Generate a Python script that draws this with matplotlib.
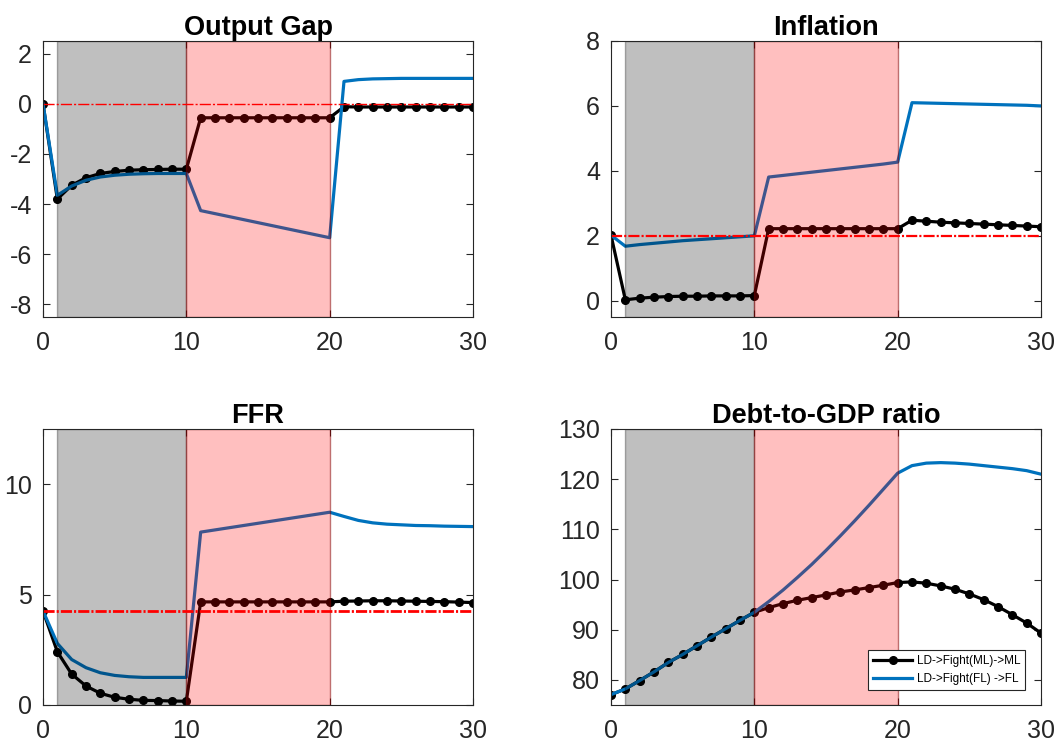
import numpy as np
import matplotlib
matplotlib.use("Agg")
import matplotlib.pyplot as plt

plt.rcParams['font.family'] = ['Liberation Sans', 'DejaVu Sans']
plt.rcParams['axes.unicode_minus'] = False
plt.rcParams['lines.scale_dashes'] = False

t = np.arange(0, 31)

# Output gap
gap_ml = [0, -3.8, -3.25, -2.95, -2.78, -2.70, -2.65, -2.63, -2.62, -2.61, -2.61,
          -0.56, -0.56, -0.56, -0.56, -0.56, -0.56, -0.56, -0.56, -0.56, -0.56,
          -0.12, -0.13, -0.13, -0.13, -0.13, -0.13, -0.13, -0.13, -0.13, -0.13]
gap_fl = [0, -3.65, -3.28, -3.05, -2.92, -2.85, -2.81, -2.79, -2.78, -2.78, -2.78,
          -4.26, -4.38, -4.50, -4.62, -4.74, -4.86, -4.98, -5.10, -5.22, -5.34,
          0.89, 0.96, 0.99, 1.0, 1.01, 1.01, 1.01, 1.01, 1.01, 1.01]
gap_ss = 0.0

# Inflation
inf_ml = [2.02, 0.03, 0.08, 0.11, 0.13, 0.14, 0.14, 0.15, 0.15, 0.15, 0.16,
          2.22, 2.22, 2.22, 2.22, 2.22, 2.22, 2.22, 2.22, 2.22, 2.22,
          2.48, 2.45, 2.42, 2.40, 2.38, 2.36, 2.34, 2.32, 2.30, 2.28]
inf_fl = [2.02, 1.68, 1.73, 1.77, 1.81, 1.85, 1.88, 1.91, 1.94, 1.97, 2.0,
          3.81, 3.86, 3.91, 3.96, 4.01, 4.06, 4.11, 4.16, 4.21, 4.27,
          6.10, 6.09, 6.08, 6.07, 6.06, 6.05, 6.04, 6.03, 6.02, 6.00]
inf_ss = 2.0

# FFR
ffr_ml = [4.26, 2.41, 1.40, 0.86, 0.53, 0.35, 0.26, 0.21, 0.20, 0.18, 0.17,
          4.67, 4.67, 4.67, 4.67, 4.67, 4.67, 4.67, 4.67, 4.67, 4.67,
          4.70, 4.71, 4.72, 4.72, 4.71, 4.70, 4.69, 4.68, 4.66, 4.64]
ffr_fl = [4.26, 2.79, 2.06, 1.69, 1.46, 1.34, 1.28, 1.25, 1.25, 1.25, 1.25,
          7.83, 7.93, 8.03, 8.13, 8.23, 8.33, 8.43, 8.53, 8.63, 8.73,
          8.54, 8.36, 8.25, 8.19, 8.16, 8.13, 8.12, 8.10, 8.09, 8.08]
ffr_ss = 4.26

# Debt-to-GDP
debt_ml = [77.07, 78.2, 79.87, 81.6, 83.47, 85.07, 86.8, 88.53, 90.2, 91.87, 93.47,
           94.4, 95.2, 95.87, 96.4, 96.93, 97.53, 97.93, 98.4, 98.87, 99.4,
           99.53, 99.27, 98.73, 98.07, 97.13, 96.0, 94.6, 93.0, 91.33, 89.33]
debt_fl = [77.07, 78.2, 79.87, 81.6, 83.47, 85.07, 86.8, 88.53, 90.2, 91.87, 93.47,
           95.6, 97.9, 100.4, 103.0, 105.8, 108.7, 111.7, 114.8, 118.0, 121.2,
           122.7, 123.2, 123.3, 123.2, 123.0, 122.7, 122.4, 122.1, 121.7, 121.0]

titles = ["Output Gap", "Inflation", "FFR", "Debt-to-GDP ratio"]
ml_series = [gap_ml, inf_ml, ffr_ml, debt_ml]
fl_series = [gap_fl, inf_fl, ffr_fl, debt_fl]
ss_values = [gap_ss, inf_ss, ffr_ss, None]
ss_widths = [1.0, 1.6, 2.0, None]
ylims = [(-8.5, 2.5), (-0.5, 8), (0, 12.5), (75, 130)]
yticks = [[-8, -6, -4, -2, 0, 2], [0, 2, 4, 6, 8], [0, 5, 10],
          [80, 90, 100, 110, 120, 130]]
xticks = [0, 10, 20, 30]
legend_labels = ["LD->Fight(ML)->ML", "LD->Fight(FL) ->FL"]

W, H = 1057, 742
fig = plt.figure(figsize=(W / 100, H / 100), dpi=100)
positions = [(43, 41), (611, 41), (43, 429), (611, 429)]
aw, ah = 430, 276

axcol = (0.15, 0.15, 0.15)
blue = (0, 0.447, 0.741)

for i in range(4):
    x0, y0 = positions[i]
    ax = fig.add_axes([x0 / W, 1 - (y0 + ah) / H, aw / W, ah / H])
    l1, = ax.plot(t, ml_series[i], color='black', lw=2.3, marker='o', ms=5.5,
                  zorder=2, label=legend_labels[0])
    l2, = ax.plot(t, fl_series[i], color=blue, lw=2.3, zorder=3,
                  label=legend_labels[1])
    ax.axvspan(1, 10, facecolor=(0, 0, 0, 0.25), edgecolor=(0, 0, 0, 0.3),
               lw=1, zorder=4)
    ax.axvspan(10, 20, facecolor=(1, 0, 0, 0.25), edgecolor=(0.5, 0, 0, 0.5),
               lw=1, zorder=4)
    if ss_values[i] is not None:
        ax.plot([t[0], t[-1]], [ss_values[i]] * 2, color='red',
                lw=ss_widths[i], ls=(0, (8, 1.5, 1.5, 1.5)), zorder=5)
    ax.set_xlim(0, 30)
    ax.set_ylim(*ylims[i])
    ax.set_xticks(xticks)
    ax.set_yticks(yticks[i])
    ax.tick_params(direction='in', length=5, width=0.8, colors=axcol,
                   labelsize=18, top=True, right=True, pad=8)
    ax.tick_params(axis='x', pad=10)
    for sp in ax.spines.values():
        sp.set_color(axcol)
        sp.set_linewidth(0.8)
        sp.set_zorder(6)
    ax.set_title(titles[i], fontsize=19.5, fontweight='bold', pad=4)
    if i == 3:
        leg = ax.legend(handles=[l1, l2], loc='lower right', fontsize=8.5,
                        frameon=True, fancybox=False, edgecolor=axcol,
                        framealpha=1, borderpad=0.4, handlelength=3.3,
                        handletextpad=0.4, borderaxespad=0.0,
                        bbox_to_anchor=(0.963, 0.055))
        leg.get_frame().set_linewidth(0.8)
        leg.set_zorder(10)

fig.savefig("out.png", dpi=100)
